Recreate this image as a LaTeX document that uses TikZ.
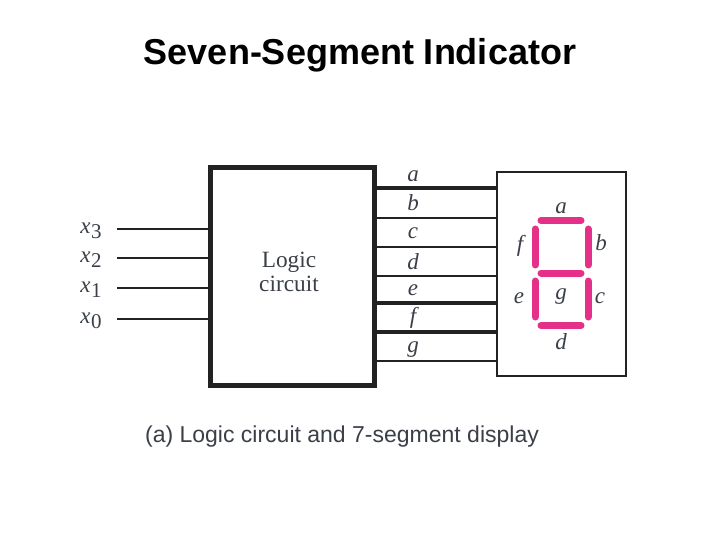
\documentclass[tikz,border=0pt]{standalone}
\usepackage{fontspec}
\setmainfont{Liberation Serif}
\newfontfamily\arialfont{Liberation Sans}
\definecolor{ink}{HTML}{222222}
\definecolor{txt}{HTML}{3A3F48}
\definecolor{seg}{HTML}{E5308A}
\tikzset{
  every node/.style={inner sep=0pt,outer sep=0pt},
  logicbox/.style={draw=ink,line width=5pt,fill=white},
  dispbox/.style={draw=ink,line width=2pt,fill=white},
  inwire/.style={draw=ink,line width=2.2pt},
  seghoriz/.style={draw=seg,line width=7pt,line cap=round},
  biglabel/.style={font=\fontsize{23.3}{25}\selectfont,text=txt},
  letterlabel/.style={font=\fontsize{23}{26}\selectfont\itshape,text=txt},
  outthick/.style={draw=ink,line width=3.2pt},
  outmid/.style={draw=ink,line width=2.6pt},
  outthin/.style={draw=ink,line width=2pt},
}
\begin{document}
\begin{tikzpicture}[x=1pt,y=-1pt]
\useasboundingbox (0,0) rectangle (720,540);
\fill[white] (0,0) rectangle (720,540);
\node[font=\arialfont\bfseries\fontsize{36}{40}\selectfont,text=black] (title) at (360,55) {Seven-Segment Indicator};
\node[logicbox,minimum width=164pt,minimum height=217pt] (logic) at (292,276.5) {};
\node[dispbox,minimum width=129pt,minimum height=204pt] (disp) at (561.5,274) {};
\node[biglabel,anchor=base] (lc1) at (289,267) {Logic};
\node[biglabel,anchor=base] (lc2) at (289,291.5) {circuit};
% inputs
\foreach \n/\y/\s/\ly in {3/229/3/231,2/258/2/260,1/288/1/290,0/319/0/321}{
  \node[letterlabel] (lx\n) at (91,\ly) {x\kern0.5pt\raisebox{-5pt}{\upshape\fontsize{21}{22}\selectfont \s}};
  \coordinate (ix\n) at (117,\y);
  \draw[inwire] (ix\n) -- (logic.west |- ix\n);
}
% outputs
\foreach \n/\y/\st/\ly in {a/188/outthick/176.5,b/218/outthin/203,c/247/outmid/233.5,d/276/outthin/262,e/303/outthick/290,f/332/outthick/318,g/361/outthin/349.5}{
  \node[letterlabel] (l\n) at (413,\ly) {\n};
  \coordinate (o\n) at (logic.east |- 0,\y);
  \draw[\st] (o\n) -- (disp.west |- o\n);
}
% segments
\coordinate (a1) at (541,220.5); \coordinate (a2) at (581,220.5);
\coordinate (g1) at (541,273); \coordinate (g2) at (581,273);
\coordinate (d1) at (541,325.5); \coordinate (d2) at (581,325.5);
\coordinate (f1) at (535,229); \coordinate (f2) at (535,265);
\coordinate (b1) at (588,229); \coordinate (b2) at (588,265);
\coordinate (e1) at (535,281); \coordinate (e2) at (535,317);
\coordinate (c1) at (588,281); \coordinate (c2) at (588,317);
\foreach \s in {a,g,d,f,b,e,c}{ \draw[seghoriz] (\s1) -- (\s2); }
\node[letterlabel] (sa) at (561,208) {a};
\node[letterlabel] (sf) at (520,246) {f};
\node[letterlabel] (sb) at (601,243) {b};
\node[letterlabel] (se) at (519,298.5) {e};
\node[letterlabel] (sg) at (561,296.5) {g};
\node[letterlabel] (sc) at (600,298.5) {c};
\node[letterlabel] (sd) at (561,342) {d};
\node[font=\arialfont\fontsize{23}{26}\selectfont,text=txt] (cap) at (342,437) {(a) Logic circuit and 7-segment display};
\end{tikzpicture}
\end{document}
